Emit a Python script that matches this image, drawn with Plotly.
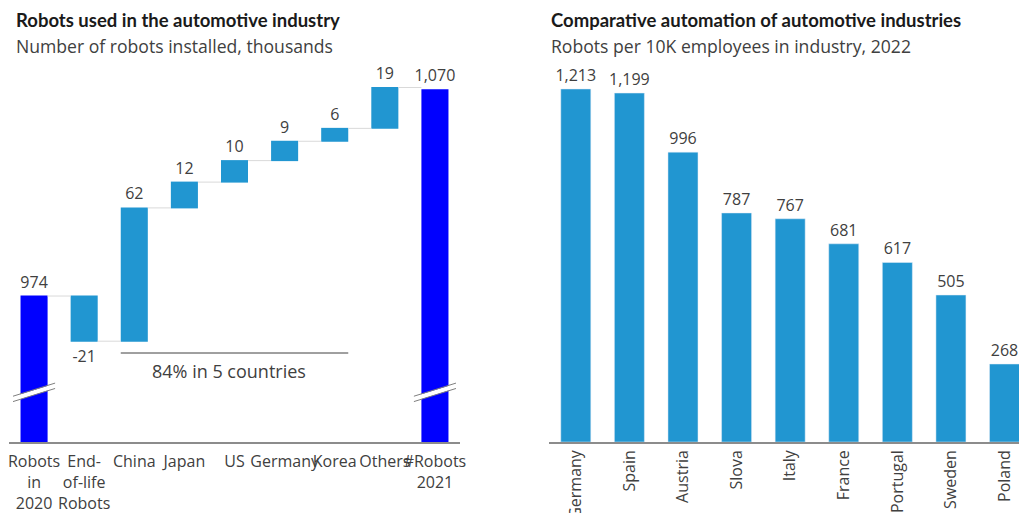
import plotly.graph_objects as go

# ---- Left chart data (waterfall) ----
wf_categories = ["Robots<br>in<br>2020", "End-<br>of-life<br>Robots", "China", "Japan", "US",
                 "Germany", "Korea", "Others", "#Robots<br>2021"]
wf_values = [974, -21, 62, 12, 10, 9, 6, 19, 1070]
wf_measures = ["absolute", "relative", "relative", "relative", "relative",
               "relative", "relative", "relative", "absolute"]
wf_labels = ["974", "-21", "62", "12", "10", "9", "6", "19", "1,070"]

# ---- Right chart data ----
countries = ["Germany", "Spain", "Austria", "Slova", "Italy", "France", "Portugal", "Sweden", "Poland"]
density = [1213, 1199, 996, 787, 767, 681, 617, 505, 268]
density_labels = ["1,213", "1,199", "996", "787", "767", "681", "617", "505", "268"]

LIGHT = "#2196D1"
DARK = "#0000FF"
TXT = "#404040"
FONT = "Open Sans"

fig = go.Figure()

fig.add_trace(go.Waterfall(
    x=list(range(len(wf_categories))), y=wf_values, measure=wf_measures,
    text=wf_labels, textinfo="text", textposition="outside", constraintext="none",
    textfont=dict(family=FONT, size=16, color=TXT),
    increasing=dict(marker=dict(color=LIGHT)),
    decreasing=dict(marker=dict(color=LIGHT)),
    totals=dict(marker=dict(color=DARK)),
    connector=dict(line=dict(color="#d9d9d9", width=1)),
    width=0.54,
    xaxis="x", yaxis="y", showlegend=False, cliponaxis=False,
))

fig.add_trace(go.Bar(
    x=list(range(len(countries))), y=density, marker_color=LIGHT, width=0.56,
    text=density_labels, textposition="outside", constraintext="none",
    textfont=dict(family=FONT, size=16, color=TXT),
    xaxis="x2", yaxis="y2", showlegend=False, cliponaxis=False,
))

fig.update_layout(
    width=1019, height=513,
    margin=dict(l=0, r=0, t=0, b=0, autoexpand=False),
    paper_bgcolor="white", plot_bgcolor="white",
    font=dict(family=FONT, color=TXT),
    xaxis=dict(domain=[9 / 1019, 460 / 1019], range=[-0.5, 8.5], automargin=False,
               tickmode="array", tickvals=list(range(len(wf_categories))),
               ticktext=wf_categories, tickangle=0, ticklabelstandoff=4,
               showline=True, linecolor="#8c8c8c", linewidth=1.5,
               showgrid=False, zeroline=False, ticks="",
               tickfont=dict(family=FONT, size=16, color=TXT)),
    yaxis=dict(domain=[(513 - 442) / 513, (513 - 60) / 513], range=[906.1, 1083.8],
               visible=False, showgrid=False, automargin=False),
    xaxis2=dict(domain=[549 / 1019, 1.0], range=[-0.5, 8.27], automargin=False,
                tickmode="array", tickvals=list(range(len(countries))),
                ticktext=countries, tickangle=-90,
                showline=True, linecolor="#8c8c8c", linewidth=1.5,
                showgrid=False, zeroline=False, ticks="",
                tickfont=dict(family=FONT, size=16, color=TXT)),
    yaxis2=dict(domain=[(513 - 442) / 513, (513 - 60) / 513], range=[0, 1312.6],
                visible=False, showgrid=False, automargin=False),
)

# Titles
fig.add_annotation(text="<b>Robots used in the automotive industry</b>", xref="paper", yref="paper",
                   x=14 / 1019, y=1 - 20 / 513, xanchor="left", yanchor="middle", showarrow=False,
                   font=dict(family="Lato", size=18.5, color="#1a1a1a"))
fig.add_annotation(text="Number of robots installed, thousands", xref="paper", yref="paper",
                   x=14 / 1019, y=1 - 46 / 513, xanchor="left", yanchor="middle", showarrow=False,
                   font=dict(family=FONT, size=17.6, color=TXT))
fig.add_annotation(text="<b>Comparative automation of automotive industries</b>", xref="paper", yref="paper",
                   x=549 / 1019, y=1 - 20 / 513, xanchor="left", yanchor="middle", showarrow=False,
                   font=dict(family="Lato", size=18.5, color="#1a1a1a"))
fig.add_annotation(text="Robots per 10K employees in industry, 2022", xref="paper", yref="paper",
                   x=549 / 1019, y=1 - 46 / 513, xanchor="left", yanchor="middle", showarrow=False,
                   font=dict(family=FONT, size=17.6, color=TXT))

# "84% in 5 countries" bracket spanning China..Korea
first_c, last_c, hw = 2, 6, 0.27
fig.add_shape(type="line", xref="x", yref="y", x0=first_c - hw, x1=last_c + hw,
              y0=947.5, y1=947.5, line=dict(color="#404040", width=1))
fig.add_annotation(text="84% in 5 countries", xref="x", yref="y", x=(first_c + last_c) / 2 - 0.1, y=939.0,
                   showarrow=False, font=dict(family=FONT, size=18, color=TXT))

# Axis-break marks on the two total bars
for idx in (0, 8):
    fig.add_shape(type="line", xref="x", yref="y", x0=idx - 0.42, x1=idx + 0.42,
                  y0=926.1, y1=932.2, line=dict(color="white", width=4.5))
    for (ya, yb) in ((927.4, 933.5), (924.9, 931.0)):
        fig.add_shape(type="line", xref="x", yref="y", x0=idx - 0.42, x1=idx + 0.42,
                      y0=ya, y1=yb, line=dict(color="#7f7f7f", width=1))

fig.write_html("out.html", config={"displayModeBar": False},
               post_script="document.body.style.margin='0';document.body.style.overflow='hidden';")
